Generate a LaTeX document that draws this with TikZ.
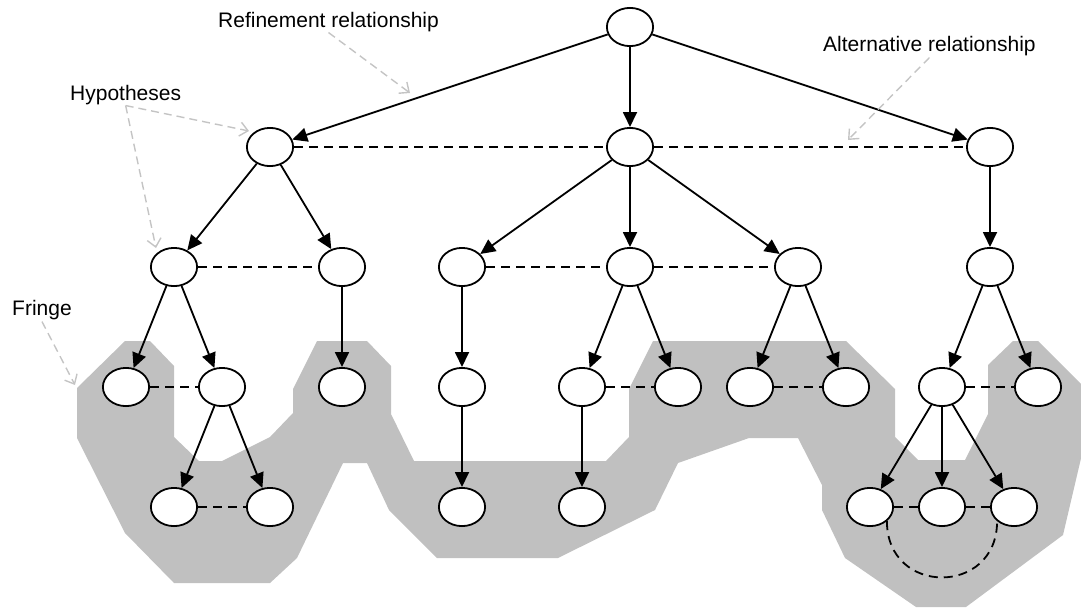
\documentclass[tikz,border=0pt]{standalone}
\usepackage{fontspec}
\setmainfont{Liberation Sans}
\usetikzlibrary{arrows.meta,shapes.geometric}
\definecolor{fringegray}{RGB}{192,192,192}
\definecolor{notegray}{RGB}{196,196,196}

\begin{document}
\begin{tikzpicture}[x=1pt,y=-1pt,
  hyp/.style={draw, ellipse, fill=white, line width=1.8pt,
    minimum width=46.2pt, minimum height=38.2pt, inner sep=0pt},
  refine/.style={line width=1.8pt, -{Triangle[length=15pt,width=14pt]}},
  altline/.style={line width=1.8pt, dash pattern=on 9pt off 6pt},
  hint/.style={notegray, line width=1.4pt, dash pattern=on 8pt off 5pt,
    -{Straight Barb[length=8pt,width=14pt]}},
  notetext/.style={anchor=base west, inner sep=0pt, font=\fontsize{21}{25}\selectfont}]

\useasboundingbox (0,0) rectangle (1081,608);

% the fringe: shaded region behind the open hypotheses
\begin{scope}
  \clip (0,0) rectangle (1081,608);
  \fill[fringegray]
    (125,341) -- (150,341) -- (174,366) -- (174,437) -- (199,461) -- (222,461)
    -- (270,437) -- (293,413) -- (293,389) -- (317,341) -- (367,341) -- (391,366)
    -- (391,414) -- (414,461) -- (606,461) -- (629,437) -- (629,389) -- (653,341)
    -- (846,341) -- (895,389) -- (895,437) -- (918,460) -- (965,460) -- (988,414)
    -- (988,365) -- (1013,341) -- (1038,341) -- (1086,389) -- (1086,437)
    -- (1063,535) -- (966,607) -- (916,607) -- (845,558) -- (822,510) -- (822,485)
    -- (798,438) -- (749,438) -- (678,463) -- (655,510) -- (558,558) -- (437,558)
    -- (389,510) -- (367,463) -- (343,463) -- (297,558) -- (270,583) -- (174,583)
    -- (125,533) -- (77,438) -- (77,388) -- cycle;
\end{scope}

% hypotheses
\node[hyp] (r)  at (630,27) {};

\node[hyp] (a1) at (270,147) {};
\node[hyp] (a2) at (630,147) {};
\node[hyp] (a3) at (990,147) {};

\node[hyp] (b1) at (174,267) {};
\node[hyp] (b2) at (342,267) {};
\node[hyp] (b3) at (462,267) {};
\node[hyp] (b4) at (630,267) {};
\node[hyp] (b5) at (798,267) {};
\node[hyp] (b6) at (990,267) {};

\node[hyp] (c1)  at (126,387) {};
\node[hyp] (c2)  at (222,387) {};
\node[hyp] (c3)  at (342,387) {};
\node[hyp] (c4)  at (462,387) {};
\node[hyp] (c5)  at (582,387) {};
\node[hyp] (c6)  at (678,387) {};
\node[hyp] (c7)  at (750,387) {};
\node[hyp] (c8)  at (846,387) {};
\node[hyp] (c9)  at (942,387) {};
\node[hyp] (c10) at (1038,387) {};

\node[hyp] (d1) at (174,507) {};
\node[hyp] (d2) at (270,507) {};
\node[hyp] (d3) at (462,507) {};
\node[hyp] (d4) at (582,507) {};
\node[hyp] (d5) at (870,507) {};
\node[hyp] (d6) at (942,507) {};
\node[hyp] (d7) at (1014,507) {};

% refinement relationships
\draw[refine] (r) -- (a1);
\draw[refine] (r) -- (a2);
\draw[refine] (r) -- (a3);
\draw[refine] (a1) -- (b1);
\draw[refine] (a1) -- (b2);
\draw[refine] (a2) -- (b3);
\draw[refine] (a2) -- (b4);
\draw[refine] (a2) -- (b5);
\draw[refine] (a3) -- (b6);
\draw[refine] (b1) -- (c1);
\draw[refine] (b1) -- (c2);
\draw[refine] (b2) -- (c3);
\draw[refine] (b3) -- (c4);
\draw[refine] (b4) -- (c5);
\draw[refine] (b4) -- (c6);
\draw[refine] (b5) -- (c7);
\draw[refine] (b5) -- (c8);
\draw[refine] (b6) -- (c9);
\draw[refine] (b6) -- (c10);
\draw[refine] (c2) -- (d1);
\draw[refine] (c2) -- (d2);
\draw[refine] (c4) -- (d3);
\draw[refine] (c5) -- (d4);
\draw[refine] (c9) -- (d5);
\draw[refine] (c9) -- (d6);
\draw[refine] (c9) -- (d7);

% alternative relationships
\draw[altline] (a1) -- (a2);
\draw[altline] (a2) -- (a3);
\draw[altline] (b1) -- (b2);
\draw[altline] (b3) -- (b4);
\draw[altline] (b4) -- (b5);
\draw[altline] (c1) -- (c2);
\draw[altline] (c5) -- (c6);
\draw[altline] (c7) -- (c8);
\draw[altline] (c9) -- (c10);
\draw[altline] (d1) -- (d2);
\draw[altline] (d5) -- (d6);
\draw[altline] (d6) -- (d7);
\draw[altline] (d5.-40) .. controls +(0,75) and +(0,75) .. (d7.-140);

% annotations
\node[notetext] (trefine) at (218,27)  {Refinement relationship};
\node[notetext] (thyp)    at (70,100)  {Hypotheses};
\node[notetext] (talt)    at (823,51)  {Alternative relationship};
\node[notetext] (tfringe) at (12,315)  {Fringe};

\coordinate (refineTip) at (410,93);
\coordinate (hypTipA)   at (249,131);
\coordinate (hypTipB)   at (156,248);
\coordinate (altTip)    at (848,140);
\coordinate (fringeTip) at (75,385);

\draw[hint] ([yshift=-1pt]trefine.south) -- (refineTip);
\draw[hint] ([yshift=-1pt]thyp.south) -- (hypTipA);
\draw[hint] ([yshift=-1pt]thyp.south) -- (hypTipB);
\draw[hint] ([yshift=-2pt]talt.south) -- (altTip);
\draw[hint] ([yshift=-2pt]tfringe.south) -- (fringeTip);
\end{tikzpicture}
\end{document}
